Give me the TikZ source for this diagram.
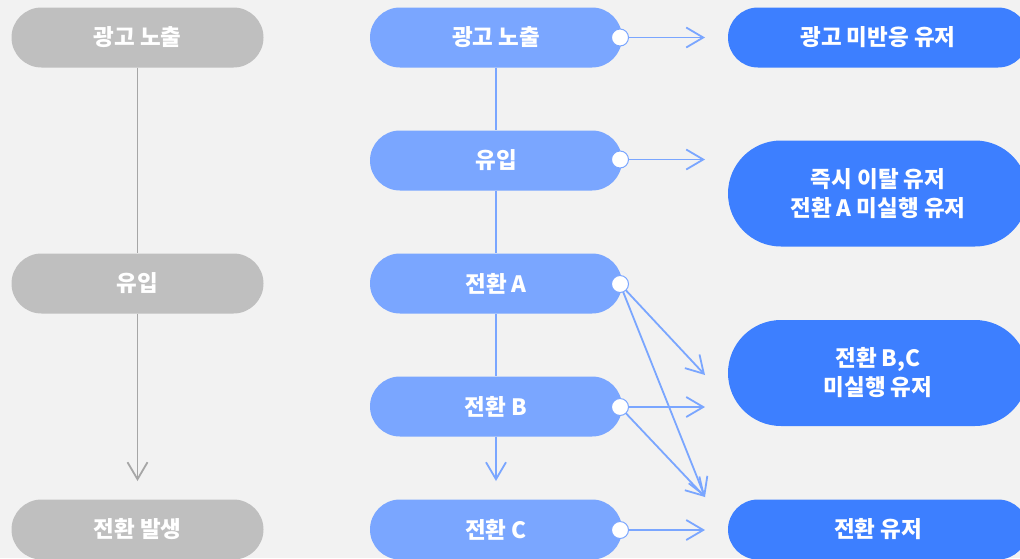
\documentclass[tikz,border=0pt]{standalone}
\usepackage{fontspec}
\newfontfamily\kr{Noto Sans CJK KR}
\usetikzlibrary{arrows.meta}
\definecolor{bg}{HTML}{F2F2F2}
\definecolor{graybox}{HTML}{BFBFBF}
\definecolor{grayline}{HTML}{A6A6A6}
\definecolor{lblue}{HTML}{7AA6FF}
\definecolor{dblue}{HTML}{3D7FFF}
\begin{document}
\begin{tikzpicture}[x=1pt,y=-1pt,
  pill/.style={rounded corners=30pt, minimum width=252pt, minimum height=60pt, inner sep=0pt,
    text=white, font=\kr\bfseries\fontsize{22.5}{29}\selectfont, align=center},
  graypill/.style={pill, fill=graybox},
  lpill/.style={pill, fill=lblue},
  dpill/.style={pill, fill=dblue, minimum width=300pt},
  tall/.style={minimum height=106pt, rounded corners=53pt},
  tip/.style={-{Straight Barb[length=17pt,width=20pt]}},
  bl/.style={draw=lblue, line width=1.8pt},
  gl/.style={draw=grayline, line width=1.8pt},
  dot/.style={circle, fill=white, draw=lblue, line width=1pt, minimum size=17pt, inner sep=0pt}]
\useasboundingbox (0,0) rectangle (1020,558);
\clip (0,0) rectangle (1020,558);
\fill[bg] (0,0) rectangle (1020,558);

% left column
\node[graypill] (g1) at (137.5,37.5) {광고 노출};
\node[graypill] (g2) at (137.5,283.5) {유입};
\node[graypill] (g3) at (137.5,529.5) {전환 발생};
\coordinate (ga) at (137.5,481);
\draw[gl] (g1.south) -- (g2.north);
\draw[gl,tip] (g2.south) -- (ga);

% middle column
\node[lpill] (m1) at (496,37.5) {광고 노출};
\node[lpill] (m2) at (496,160.5) {유입};
\node[lpill] (m3) at (496,283.5) {전환 A};
\node[lpill] (m4) at (496,406.5) {전환 B};
\node[lpill] (m5) at (496,529.5) {전환 C};
\coordinate (ma) at (496,481);
\draw[bl] (m1.south) -- (m2.north);
\draw[bl] (m2.south) -- (m3.north);
\draw[bl] (m3.south) -- (m4.north);
\draw[bl,tip] (m4.south) -- (ma);

% right column
\node[dpill] (r1) at (878,37.5) {광고 미반응 유저};
\node[dpill,tall] (r2) at (878,193.5) {즉시 이탈 유저\\전환 A 미실행 유저};
\node[dpill,tall] (r3) at (878,373) {전환 B,C\\미실행 유저};
\node[dpill] (r4) at (878,529.5) {전환 유저};

% connectors
\coordinate (p1) at (620,37.5);
\coordinate (p2) at (620,159.5);
\coordinate (p3) at (620,284);
\coordinate (p4) at (620,407);
\coordinate (p5) at (620,530);
\coordinate (e1) at (705,37.5);
\coordinate (e2) at (705,159.5);
\coordinate (e3) at (705,375);
\coordinate (e4) at (705,407);
\coordinate (e5) at (705,497);
\coordinate (e6) at (705,530);
\draw[bl,tip] (p1) -- (e1);
\draw[bl,tip] (p2) -- (e2);
\draw[bl,tip] (p3) -- (e3);
\draw[bl,tip] (p3) -- (e5);
\draw[bl,tip] (p4) -- (e4);
\draw[bl,tip] (p4) -- (e5);
\draw[bl,tip] (p5) -- (e6);
\node[dot] (d1) at (p1) {};
\node[dot] (d2) at (p2) {};
\node[dot] (d3) at (p3) {};
\node[dot] (d4) at (p4) {};
\node[dot] (d5) at (p5) {};
\end{tikzpicture}
\end{document}
